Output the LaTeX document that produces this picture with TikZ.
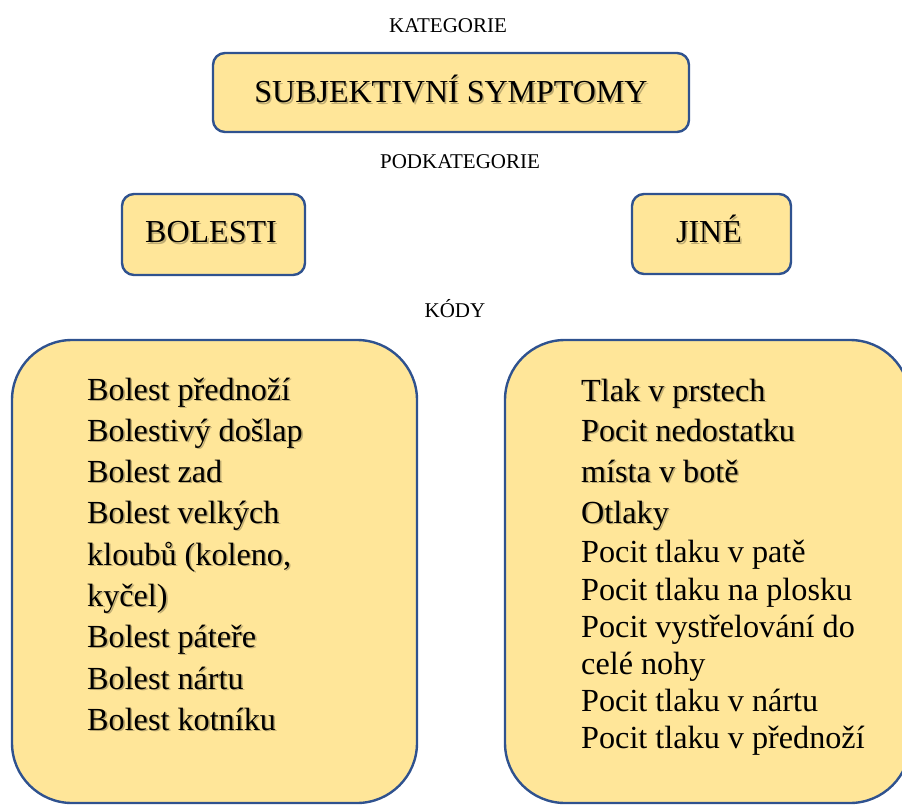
\documentclass[tikz,border=0pt]{standalone}
\usepackage{fontspec}
\setmainfont{Liberation Serif}
\definecolor{boxfill}{HTML}{FFE699}
\definecolor{boxline}{HTML}{2F528F}
\tikzset{
  box/.style={draw=boxline, line width=2.4pt, fill=boxfill, rounded corners=#1, inner sep=0pt},
  box/.default=12pt,
  lbl/.style={font=\fontsize{21}{25}\selectfont, anchor=base, inner sep=0pt},
  head/.style={font=\fontsize{32}{37}\selectfont, anchor=base, inner sep=0pt},
  code/.style={font=\fontsize{32.2}{38}\selectfont, anchor=base west, inner sep=0pt},
  shd/.style={text=black, opacity=0.25, xshift=1.6pt, yshift=-1.6pt}
}
\newcommand\shadowed[4]{%
  \node[#1, shd] at (#2) {#4};
  \node[#1] (#3) at (#2) {#4};}
\begin{document}
\begin{tikzpicture}[x=1pt,y=-1pt]
\useasboundingbox (0,0) rectangle (902,805);
\clip (0,0) rectangle (902,805);
% labels
\node[lbl] (kat) at (448,33) {KATEGORIE};
\node[lbl] (podkat) at (460,169) {PODKATEGORIE};
\node[lbl] (kody) at (455,317) {KÓDY};
% boxes
\node[box, minimum width=476pt, minimum height=79pt] (cat) at (451,92.5) {};
\node[box, minimum width=183pt, minimum height=81pt] (bol) at (213.5,234.5) {};
\node[box, minimum width=159pt, minimum height=80pt] (jine) at (711.5,234) {};
\node[box=60pt, minimum width=405pt, minimum height=463pt] (left) at (214.5,571.5) {};
\node[box=60pt, minimum width=405pt, minimum height=463pt] (right) at (707.5,571.5) {};
% box texts
\shadowed{head}{451,103}{catt}{SUBJEKTIVNÍ SYMPTOMY}
\shadowed{head}{211,243}{bolt}{BOLESTI}
\shadowed{head}{709,243}{jinet}{JINÉ}
% left codes
\shadowed{code}{87,400}{l1}{Bolest přednoží}
\shadowed{code}{87,441}{l2}{Bolestivý došlap}
\shadowed{code}{87,482}{l3}{Bolest zad}
\shadowed{code}{87,523}{l4}{Bolest velkých}
\shadowed{code}{87,565}{l5}{kloubů (koleno,}
\shadowed{code}{87,606}{l6}{kyčel)}
\shadowed{code}{87,647}{l7}{Bolest páteře}
\shadowed{code}{87,689}{l8}{Bolest nártu}
\shadowed{code}{87,730}{l9}{Bolest kotníku}
% right codes
\shadowed{code}{581,401}{r1}{Tlak v prstech}
\shadowed{code}{581,441}{r2}{Pocit nedostatku}
\shadowed{code}{581,482}{r3}{místa v botě}
\shadowed{code}{581,523}{r4}{Otlaky}
\node[code] (r5) at (581,562) {Pocit tlaku v patě};
\node[code] (r6) at (581,600) {Pocit tlaku na plosku};
\node[code] (r7) at (581,637) {Pocit vystřelování do};
\node[code] (r8) at (581,674) {celé nohy};
\node[code] (r9) at (581,711) {Pocit tlaku v nártu};
\node[code] (r10) at (581,748) {Pocit tlaku v přednoží};
\end{tikzpicture}
\end{document}
